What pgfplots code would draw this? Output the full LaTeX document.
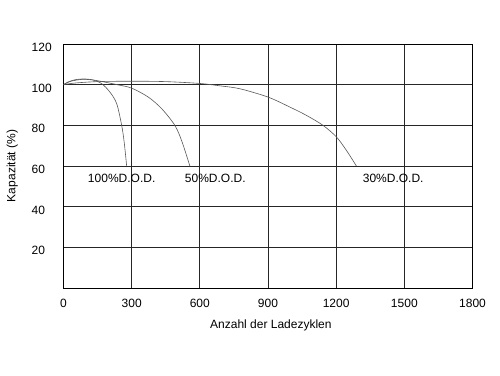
\documentclass[border=0pt]{standalone}
\usepackage{fontspec}
\setmainfont{Liberation Sans}
\usepackage{pgfplots}
\pgfplotsset{compat=1.18}
\begin{document}
\begin{tikzpicture}[x=1pt,y=1pt]
\path[use as bounding box, fill=white] (0,0) rectangle (500,375);
\begin{axis}[
  at={(63.5pt,87pt)}, anchor=south west,
  scale only axis, width=409pt, height=244pt,
  xmin=0, xmax=1800, ymin=0, ymax=120,
  xtick={0,300,...,1800}, ytick={20,40,...,120},
  grid=major,
  major grid style={black!85, line width=0.8pt},
  axis line style={black, line width=0.8pt},
  major tick length=0pt,
  font=\fontsize{12}{14}\selectfont,
  /pgf/number format/assume math mode=true,
  /pgf/number format/1000 sep={},
  xticklabel style={yshift=-8pt},
  yticklabel style={anchor=west, inner sep=0pt, xshift=-32pt, yshift=-3.5pt},
  xlabel={Anzahl der Ladezyklen},
  ylabel={Kapazität (\%)},
  xlabel style={at={(axis description cs:0.507,-0.1545)}, anchor=center},
  ylabel style={at={(axis description cs:-0.125,0.5)}, anchor=center, rotate=0},
]
\addplot[gray!70!black, line width=0.6pt, smooth] coordinates {
 (0,100) (20,101.3) (50,102.4) (90,102.8) (130,102.3) (168,100.5) (204,96.4)
 (234,90.7) (256,80) (267,71.8) (278,60)
};
\addplot[gray!70!black, line width=0.6pt, smooth] coordinates {
 (0,100) (30,101.6) (80,102.6) (130,102.3) (180,101.3) (240,99.9) (300,98.3)
 (373,93.9) (432,88.2) (490,80) (522,71.8) (556,60)
};
\addplot[gray!70!black, line width=0.6pt, smooth] coordinates {
 (0,100) (50,100.8) (150,101.5) (300,101.7) (450,101.5) (600,100.6) (690,99.4)
 (776,98) (900,93.9) (996,89) (1069,84.9) (1142,80) (1201,74.3) (1245,67.7) (1289,60)
};
\node at (axis cs:256,54) {100\%D.O.D.};
\node at (axis cs:668,54) {50\%D.O.D.};
\node at (axis cs:1451,54) {30\%D.O.D.};
\end{axis}
\end{tikzpicture}
\end{document}
